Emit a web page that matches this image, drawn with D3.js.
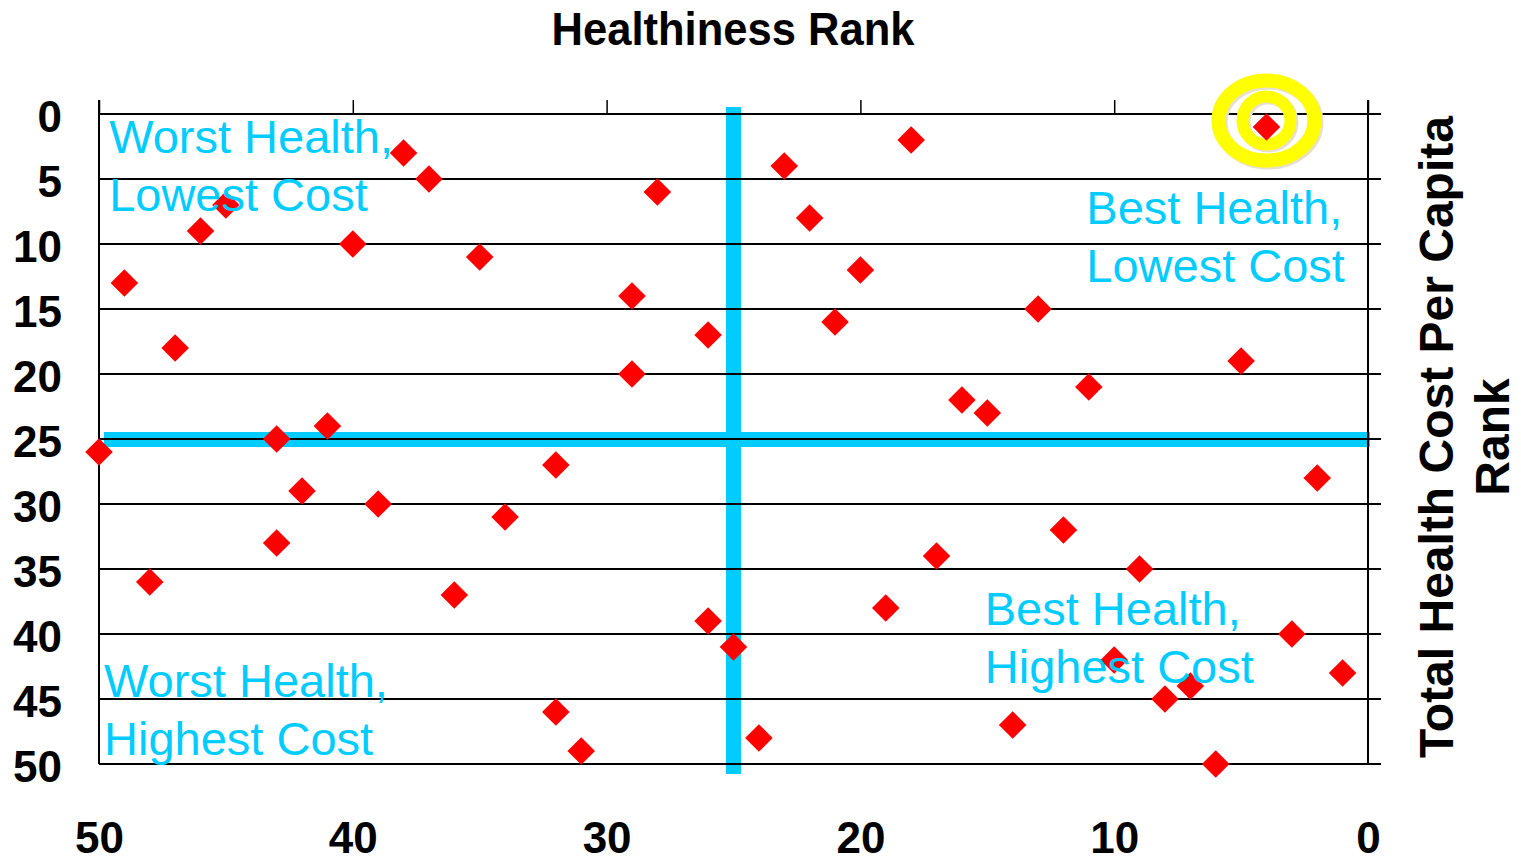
<!DOCTYPE html>
<html>
<head>
<meta charset="utf-8">
<script src="https://cdnjs.cloudflare.com/ajax/libs/d3/7.8.5/d3.min.js"></script>
<style>
  body { margin: 0; background: #fff; }
  svg { display: block; font-family: "Liberation Sans", Arial, sans-serif; }
</style>
</head>
<body>
<div id="chart"></div>
<script>
// healthiness rank (x) and total health cost per capita rank (y), one entry per state
var healthRank = [4,38,37,45,46,40,35,49,47,28,29,29,26,23,22,18,20,21,13,5,16,15,11,50,43,41,42,39,43,48,36,34,32,26,25,32,31,24,19,17,12,9,14,10,7,8,6,3,1,2];
var costRank = [1,3,5,7,9,10,11,13,18,6,14,20,17,4,8,2,12,16,15,19,22,23,21,26,25,24,29,30,33,36,37,31,27,39,41,46,49,48,38,34,32,35,47,42,44,45,50,40,43,28];

var xTicks = [50,40,30,20,10,0];
var yTicks = [0,5,10,15,20,25,30,35,40,45,50];

var split = [25, 25];          // quadrant dividers (health, cost)
var highlight = [4, 0.5];      // yellow target ring

// caption anchor = first line baseline, in data units
var quadLabels = [
  {lines: ["Worst Health,", "Lowest Cost"], x: 49.6, y: 3.0},
  {lines: ["Best Health,", "Lowest Cost"], x: 11.1, y: 8.45},
  {lines: ["Best Health,", "Highest Cost"], x: 15.1, y: 39.3},
  {lines: ["Worst Health,", "Highest Cost"], x: 49.8, y: 44.85}
];

var W = 1521, H = 861;
var cyan = "#00ccff";

var svg = d3.select("#chart")
  .append("svg")
  .attr("width", W)
  .attr("height", H);

var x = d3.scaleLinear().domain([50, 0]).range([99, 1368]);
var y = d3.scaleLinear().domain([0, 50]).range([114, 764]);

// quadrant divider bars (under the grid)
svg.append("line")
  .attr("x1", x(split[0])).attr("x2", x(split[0]))
  .attr("y1", y(0) - 7).attr("y2", y(50) + 10)
  .style("stroke", cyan).style("stroke-width", 15);

svg.append("line")
  .attr("x1", x(50) + 5).attr("x2", x(0) + 2)
  .attr("y1", y(split[1]) + 0.5).attr("y2", y(split[1]) + 0.5)
  .style("stroke", cyan).style("stroke-width", 15);

// horizontal grid lines, running slightly past the right edge as ticks
yTicks.forEach(function(d) {
  svg.append("line")
    .attr("x1", x(50)).attr("x2", x(0) + 13)
    .attr("y1", y(d)).attr("y2", y(d))
    .style("stroke", "black").style("stroke-width", 2);
});

// frame sides, extending up above the top grid line
[50, 0].forEach(function(d) {
  svg.append("line")
    .attr("x1", x(d)).attr("x2", x(d))
    .attr("y1", y(0) - 14).attr("y2", y(50))
    .style("stroke", "black").style("stroke-width", 2);
});

// top ticks
var topAxis = svg.append("g")
  .attr("transform", "translate(0," + y(0) + ")")
  .call(d3.axisTop(x).tickValues(xTicks).tickSize(14).tickFormat(""));
topAxis.select(".domain").remove();
topAxis.selectAll(".tick line").style("stroke", "black").style("stroke-width", 1.5);

// bottom labels
var bottomAxis = svg.append("g")
  .attr("transform", "translate(0,821)")
  .call(d3.axisBottom(x).tickValues(xTicks).tickSize(0).tickPadding(0));
bottomAxis.select(".domain").remove();
bottomAxis.selectAll("text")
  .attr("dy", "0.72em")
  .style("font-family", "'Liberation Sans', Arial, sans-serif")
  .style("font-size", "44px")
  .style("font-weight", "bold")
  .style("fill", "black");

// left labels
var leftAxis = svg.append("g")
  .attr("transform", "translate(62,0)")
  .call(d3.axisLeft(y).tickValues(yTicks).tickSize(0).tickPadding(0));
leftAxis.select(".domain").remove();
leftAxis.selectAll("text")
  .attr("dy", "0.4em")
  .style("font-family", "'Liberation Sans', Arial, sans-serif")
  .style("font-size", "44px")
  .style("font-weight", "bold")
  .style("fill", "black");

// target ring around the best state
var hx = x(highlight[0]), hy = y(highlight[1]);
var ring = svg.append("g");
ring.append("ellipse")
  .attr("cx", hx + 2).attr("cy", hy + 2).attr("rx", 48).attr("ry", 40)
  .style("fill", "none").style("stroke", "#e8dfcf").style("stroke-width", 14);
ring.append("ellipse")
  .attr("cx", hx).attr("cy", hy).attr("rx", 48).attr("ry", 40)
  .style("fill", "none").style("stroke", "#ffff00").style("stroke-width", 14);
ring.append("circle")
  .attr("cx", hx + 2).attr("cy", hy + 2).attr("r", 24)
  .style("fill", "none").style("stroke", "#e8dfcf").style("stroke-width", 12);
ring.append("circle")
  .attr("cx", hx).attr("cy", hy).attr("r", 24)
  .style("fill", "none").style("stroke", "#ffff00").style("stroke-width", 12);

// diamonds
var diamond = d3.symbol().type(d3.symbolSquare).size(380);
svg.selectAll(".pt")
  .data(healthRank)
  .enter()
  .append("path")
  .attr("class", "pt")
  .attr("d", diamond)
  .attr("transform", function(d, i) {
    return "translate(" + x(d) + "," + y(costRank[i]) + ") rotate(45)";
  })
  .style("fill", "#ff0000");

// quadrant captions
quadLabels.forEach(function(q) {
  var t = svg.append("text")
    .attr("x", x(q.x))
    .attr("y", y(q.y))
    .style("font-size", "47px")
    .style("fill", cyan);
  q.lines.forEach(function(line, i) {
    t.append("tspan")
      .attr("x", x(q.x))
      .attr("dy", i == 0 ? 0 : 58)
      .text(line);
  });
});

// titles
svg.append("text")
  .attr("x", 733)
  .attr("y", 45)
  .attr("text-anchor", "middle")
  .attr("textLength", 363)
  .attr("lengthAdjust", "spacingAndGlyphs")
  .style("font-size", "46px")
  .style("font-weight", "bold")
  .text("Healthiness Rank");

var rt = svg.append("text")
  .attr("transform", "translate(1453,437) rotate(-90)")
  .attr("text-anchor", "middle")
  .style("font-size", "48px")
  .style("font-weight", "bold");
rt.append("tspan").attr("x", 0).attr("y", 0).text("Total Health Cost Per Capita");
rt.append("tspan").attr("x", 0).attr("y", 56).text("Rank");
</script>
</body>
</html>
